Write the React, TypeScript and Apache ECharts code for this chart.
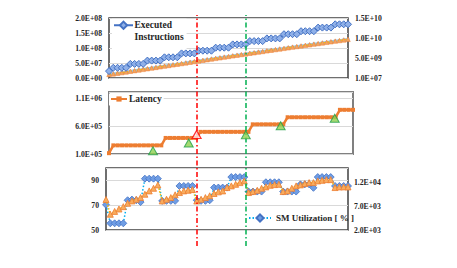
import React, { useEffect, useRef } from 'react';
import * as echarts from 'echarts';

// ---------- data ----------
const sampleCount = 57; // samples along the shared x axis (index 0..56)

// Panel 1 – executed instructions (left axis)
const executedInstructions = [
  2.3e7,
  3.4e7, 3.4e7, 3.4e7, 3.4e7,
  4.7e7, 4.7e7, 4.7e7, 4.7e7,
  5.8e7, 5.8e7, 5.8e7, 5.8e7,
  6.9e7, 6.9e7, 6.9e7, 6.9e7,
  8.2e7, 8.2e7, 8.2e7, 8.2e7,
  9.1e7, 9.1e7, 9.1e7, 9.1e7,
  1.01e8, 1.01e8, 1.01e8, 1.01e8,
  1.12e8, 1.12e8, 1.12e8, 1.12e8,
  1.23e8, 1.23e8, 1.23e8, 1.23e8,
  1.32e8, 1.32e8, 1.32e8, 1.32e8,
  1.46e8, 1.46e8, 1.46e8, 1.46e8,
  1.56e8, 1.56e8, 1.56e8, 1.56e8,
  1.68e8, 1.68e8, 1.68e8, 1.68e8,
  1.79e8, 1.79e8, 1.79e8, 1.79e8,
];
// Panel 1 – cumulative counts (right axis)
const cumulativeBlue = [
  0.86e9, 1.01e9, 1.17e9, 1.33e9, 1.49e9, 1.66e9, 1.82e9, 1.98e9, 2.14e9, 2.31e9,
  2.47e9, 2.63e9, 2.79e9, 2.95e9, 3.12e9, 3.28e9, 3.44e9, 3.60e9, 3.76e9, 3.93e9,
  4.09e9, 4.25e9, 4.41e9, 4.57e9, 4.73e9, 4.89e9, 5.05e9, 5.21e9, 5.37e9, 5.53e9,
  5.69e9, 5.85e9, 6.00e9, 6.16e9, 6.31e9, 6.47e9, 6.62e9, 6.78e9, 6.93e9, 7.09e9,
  7.24e9, 7.39e9, 7.55e9, 7.70e9, 7.85e9, 8.00e9, 8.15e9, 8.30e9, 8.45e9, 8.60e9,
  8.75e9, 8.90e9, 9.05e9, 9.20e9, 9.35e9, 9.49e9, 9.64e9,
];
const cumulativeOrange = [
  0.89e9, 1.04e9, 1.20e9, 1.36e9, 1.52e9, 1.69e9, 1.85e9, 2.01e9, 2.17e9, 2.34e9,
  2.50e9, 2.66e9, 2.82e9, 2.98e9, 3.15e9, 3.31e9, 3.47e9, 3.63e9, 3.79e9, 3.96e9,
  4.12e9, 4.28e9, 4.44e9, 4.60e9, 4.76e9, 4.92e9, 5.08e9, 5.24e9, 5.40e9, 5.56e9,
  5.72e9, 5.88e9, 6.03e9, 6.19e9, 6.34e9, 6.50e9, 6.65e9, 6.81e9, 6.96e9, 7.12e9,
  7.27e9, 7.42e9, 7.58e9, 7.73e9, 7.88e9, 8.03e9, 8.18e9, 8.33e9, 8.48e9, 8.63e9,
  8.78e9, 8.93e9, 9.08e9, 9.23e9, 9.38e9, 9.52e9, 9.67e9,
];

// Panel 2 – latency
const latency = [
  1.15e5,
  2.56e5, 2.56e5, 2.56e5, 2.56e5, 2.56e5, 2.56e5, 2.56e5, 2.56e5, 2.56e5, 2.56e5, 2.56e5, 2.56e5,
  3.9e5, 3.9e5, 3.9e5, 3.9e5, 3.9e5, 3.9e5, 3.9e5, 3.9e5,
  5.0e5, 5.0e5, 5.0e5, 5.0e5, 5.0e5, 5.0e5, 5.0e5, 5.0e5, 5.0e5, 5.0e5, 5.0e5, 5.0e5,
  6.36e5, 6.36e5, 6.36e5, 6.36e5, 6.36e5, 6.36e5, 6.36e5, 6.36e5,
  7.64e5, 7.64e5, 7.64e5, 7.64e5, 7.64e5, 7.64e5, 7.64e5, 7.64e5, 7.64e5, 7.64e5, 7.64e5, 7.64e5,
  8.98e5, 8.98e5, 8.98e5, 8.98e5,
];
const greenMarkerX = [10.1, 18.3, 31.4, 39.4, 51.8];
const greenMarkerY = [1.57e5, 2.98e5, 4.45e5, 6.1e5, 7.46e5];
const redMarkerX = [20.1];
const redMarkerY = [4.52e5];
const phaseLineRed = 20.1;
const phaseLineGreen = 31.4;

// Panel 3 – SM utilization (left axis) and companion metric (right axis)
const smUtilization = [
  70.3,
  55.4, 55.4, 55.4, 55.4,
  74, 74.5, 74, 72.5,
  91.4, 91.4, 91.4, 91.4,
  73.5, 73.5, 73.5, 73.5,
  85.5, 85.5, 85.5, 85.5,
  74, 73.5, 73.5, 74,
  84.2, 84.2, 84.2, 84.2,
  92.7, 92.7, 92.7, 92.7,
  81, 81, 81, 81,
  88.5, 88.5, 88.5, 88.5,
  81, 81, 81, 81,
  86.8, 86.8, 86.8, 84,
  92.7, 92.7, 92.7, 92.7,
  85.5, 85.5, 85.5, 85.5,
];
const smSecondary = [
  8400, 5300, 5900, 6400, 6900, 7600, 8100, 8450, 8800, 9500, 10200, 10750, 11450,
  8100, 8450, 8800, 9375, 9850, 10200, 10330, 10480,
  8080, 8450, 8800, 9170, 9650, 10000, 10200, 10900, 11250, 11580, 11940, 12290,
  9850, 10060, 10330, 10750, 11040, 11375, 11520, 11580,
  10060, 10200, 10750, 11250, 11460, 11730, 11940, 11940, 12290, 12420, 12560, 12560,
  10900, 11040, 11040, 11040,
];

// Tick labels
const instrTicks = [0, 5e7, 1e8, 1.5e8, 2e8];
const cumTicks = [1e7, 5.01e9, 1.001e10, 1.501e10];
const latencyTicks = [1e5, 6e5, 1.1e6];
const latencyAxisMax = 1.22e6;
const smTicks = [50, 70, 90];
const smAxisMax = 100;
const smSecTicks = [2000, 7000, 12000];
const smSecAxisMax = 15000;

// ---------- helpers ----------
const FONT = 'Liberation Serif';
const TEXT = '#262626';

function sci(v: number): string {
  const s = v.toExponential(1);
  const [m, e] = s.split('e');
  const sign = e[0] === '-' ? '-' : '+';
  const d = e.replace(/^[+-]/, '').padStart(2, '0');
  return `${m}E${sign}${d}`;
}
function onTick(ticks: number[], v: number) {
  return ticks.some((t) => Math.abs(t - v) <= Math.abs(t) * 1e-6 + 1e-9);
}
const pairs = (arr: number[]) => arr.map((v, i) => [i, v]);
const zip = (xs: number[], ys: number[]) => xs.map((x, i) => [x, ys[i]]);

const labelBase = {
  fontFamily: FONT,
  fontWeight: 'bold' as const,
  fontSize: 7.7,
  color: TEXT,
};
const grayGrid = { show: true, lineStyle: { color: '#d9d9d9', width: 1 } };

export default function App() {
  const ref = useRef<HTMLDivElement>(null);

  useEffect(() => {
    if (!ref.current) return;
    const chart = echarts.init(ref.current, undefined, { renderer: 'svg' });
    const lastIdx = sampleCount - 1;

    const option: any = {
      animation: false,
      backgroundColor: '#ffffff',
      grid: [
        { left: 109, top: 18, width: 239, height: 60, show: true, borderColor: '#404040', borderWidth: 1.5, backgroundColor: 'transparent' },
        { left: 109, top: 92, width: 244, height: 62, show: true, borderColor: '#808080', borderWidth: 2, backgroundColor: 'transparent' },
        { left: 106, top: 168, width: 242, height: 62, show: true, borderColor: '#404040', borderWidth: 1.5, backgroundColor: 'transparent' },
        { left: 109, top: 15, width: 244, height: 231, show: false },
      ],
      xAxis: [0, 1, 2, 3].map((g) => ({
        type: 'value', gridIndex: g, min: 0, max: lastIdx, show: false,
      })),
      yAxis: [
        {
          type: 'value', gridIndex: 0, position: 'left',
          min: instrTicks[0], max: instrTicks[instrTicks.length - 1], interval: instrTicks[1] - instrTicks[0],
          axisLine: { show: false }, axisTick: { show: false },
          axisLabel: { ...labelBase, margin: 7, formatter: (v: number) => (onTick(instrTicks, v) ? sci(v) : '') },
          splitLine: grayGrid,
        },
        {
          type: 'value', gridIndex: 0, position: 'right',
          min: cumTicks[0], max: cumTicks[cumTicks.length - 1], interval: cumTicks[1] - cumTicks[0],
          axisLine: { show: false }, axisTick: { show: false },
          axisLabel: { ...labelBase, margin: 7, formatter: (v: number) => (onTick(cumTicks, v) ? sci(v) : '') },
          splitLine: { show: false },
        },
        {
          type: 'value', gridIndex: 1, position: 'left',
          min: latencyTicks[0], max: latencyAxisMax, interval: latencyTicks[1] - latencyTicks[0],
          axisLine: { show: false }, axisTick: { show: false },
          axisLabel: { ...labelBase, margin: 7, formatter: (v: number) => (onTick(latencyTicks, v) ? sci(v) : '') },
          splitLine: grayGrid,
        },
        {
          type: 'value', gridIndex: 2, position: 'left',
          min: smTicks[0], max: smAxisMax, interval: smTicks[1] - smTicks[0],
          axisLine: { show: false }, axisTick: { show: false },
          axisLabel: { ...labelBase, margin: 7, formatter: (v: number) => (onTick(smTicks, v) ? String(v) : '') },
          splitLine: grayGrid,
        },
        {
          type: 'value', gridIndex: 2, position: 'right',
          min: smSecTicks[0], max: smSecAxisMax, interval: smSecTicks[1] - smSecTicks[0],
          axisLine: { show: false }, axisTick: { show: false },
          axisLabel: { ...labelBase, margin: 6, formatter: (v: number) => (onTick(smSecTicks, v) ? sci(v) : '') },
          splitLine: { show: false },
        },
        { type: 'value', gridIndex: 3, min: 0, max: 1, show: false },
      ],
      legend: [
        {
          data: ['Executed Instructions'],
          left: 112, top: 18.75,
          itemWidth: 19, itemHeight: 9,
          padding: [1.5, 3, 13, 1],
          backgroundColor: '#ffffff',
          selectedMode: false,
          formatter: () => '{a|Executed}\n{a|Instructions}',
          textStyle: {
            padding: [0, 0, -11.5, -3.5],
            rich: { a: { fontFamily: FONT, fontWeight: 'bold', fontSize: 9.5, lineHeight: 11.5, color: TEXT } },
          },
        },
        {
          data: ['Latency'],
          left: 109, top: 93.5,
          itemWidth: 16, itemHeight: 6.5,
          padding: [0, 2, 1, 1],
          backgroundColor: '#ffffff',
          selectedMode: false,
          textStyle: { fontFamily: FONT, fontWeight: 'bold', fontSize: 9.5, lineHeight: 11, color: TEXT, padding: [0, 0, 0, -3] },
        },
        {
          data: ['SM Utilization [ % ]'],
          left: 248, top: 212.5,
          itemWidth: 22, itemHeight: 9,
          padding: 0,
          selectedMode: false,
          textStyle: { fontFamily: FONT, fontWeight: 'bold', fontSize: 9, lineHeight: 11, color: TEXT },
        },
      ],
      series: [
        {
          name: 'Cumulative Instructions', type: 'line', xAxisIndex: 0, yAxisIndex: 1,
          data: pairs(cumulativeBlue), symbol: 'rect', symbolSize: 3,
          itemStyle: { color: '#9dc3e6' }, lineStyle: { color: '#9dc3e6', width: 3 }, z: 2,
        },
        {
          name: 'Cumulative Cycles', type: 'line', xAxisIndex: 0, yAxisIndex: 1,
          data: pairs(cumulativeOrange), symbol: 'triangle', symbolSize: 4.5,
          itemStyle: { color: '#f4a460', borderColor: '#ed7d31', borderWidth: 0.5 },
          lineStyle: { color: '#ffc000', width: 1.5, type: [2, 1.5] }, z: 3,
        },
        {
          name: 'Executed Instructions', type: 'line', xAxisIndex: 0, yAxisIndex: 0,
          data: pairs(executedInstructions), symbol: 'diamond', symbolSize: 7,
          itemStyle: { color: '#8fb0e8', borderColor: '#4472c4', borderWidth: 1 },
          lineStyle: { color: '#4472c4', width: 1.5 }, z: 4,
        },
        {
          name: 'Latency', type: 'line', xAxisIndex: 1, yAxisIndex: 2,
          data: pairs(latency), symbol: 'rect', symbolSize: 4,
          itemStyle: { color: '#ed7d31' }, lineStyle: { color: '#ed7d31', width: 2.5 }, z: 3,
        },
        {
          name: 'Phase change', type: 'scatter', xAxisIndex: 1, yAxisIndex: 2,
          data: zip(greenMarkerX, greenMarkerY), symbol: 'triangle', symbolSize: [9, 8],
          itemStyle: { color: '#8fd14f', borderColor: '#1f9d48', borderWidth: 1 }, z: 5,
        },
        {
          name: 'Selected phase', type: 'scatter', xAxisIndex: 1, yAxisIndex: 2,
          data: zip(redMarkerX, redMarkerY), symbol: 'triangle', symbolSize: [9, 8],
          itemStyle: { color: '#fde2e2', borderColor: '#ff0000', borderWidth: 1.2 }, z: 5,
        },
        {
          name: 'SM Utilization [ % ]', type: 'line', xAxisIndex: 2, yAxisIndex: 3,
          data: pairs(smUtilization), symbol: 'diamond', symbolSize: 7,
          itemStyle: { color: '#6f9de4', borderColor: '#4472c4', borderWidth: 0.8 },
          lineStyle: { color: '#00b0f0', width: 1.5, type: [1.5, 2] }, z: 3,
        },
        {
          name: 'Active Warps', type: 'line', xAxisIndex: 2, yAxisIndex: 4,
          data: pairs(smSecondary), symbol: 'triangle', symbolSize: 6,
          itemStyle: { color: '#f8ac5e', borderColor: '#ed7d31', borderWidth: 0.8 },
          lineStyle: { color: '#ffc000', width: 1.5, type: [1.5, 1.5] }, z: 4,
        },
        {
          name: 'Phase markers', type: 'line', xAxisIndex: 3, yAxisIndex: 5,
          data: [], z: 10,
          markLine: {
            silent: true, symbol: ['none', 'none'], label: { show: false },
            data: [
              { xAxis: phaseLineRed, lineStyle: { color: '#ff0000', width: 1.5, type: [5, 2.5, 1.5, 2.5] } },
              { xAxis: phaseLineGreen, lineStyle: { color: '#00b050', width: 1.5, type: [5, 2.5, 1.5, 2.5] } },
            ],
          },
        },
      ],
    };

    chart.setOption(option);
    return () => chart.dispose();
  }, []);

  return (
    <div
      ref={ref}
      style={{ position: 'fixed', left: 0, top: 0, width: 457, height: 268 }}
    />
  );
}
